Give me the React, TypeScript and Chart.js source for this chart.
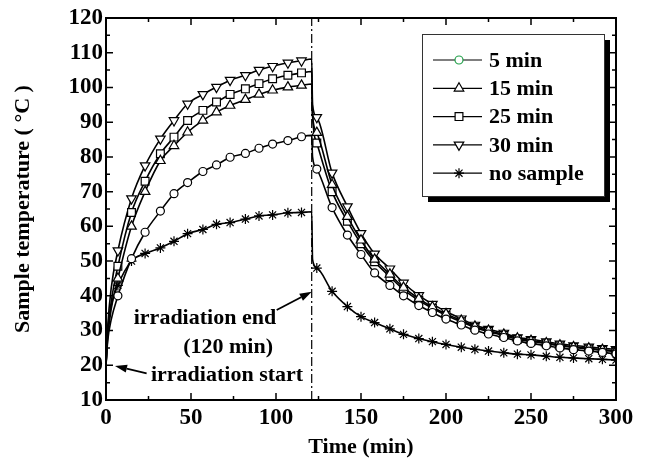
import { useEffect, useRef } from 'react';
import { Chart, registerables } from 'chart.js';

Chart.register(...registerables);

// ---- data ----
const heatTimes = [0, 1, 3, 7, 15, 23, 32, 40, 48, 57, 65, 73, 82, 90, 98, 107, 115, 121];
const coolTimes = [121.5, 124, 133, 142, 150, 158, 167, 175, 184, 192, 200, 209, 217, 225, 234, 242, 250, 259, 267, 275, 284, 292, 300];
const times = [...heatTimes, ...coolTimes];

const heat5 = [20, 27, 33, 40, 50.7, 58.3, 64.4, 69.4, 72.6, 75.8, 77.7, 79.9, 81, 82.5, 83.7, 84.7, 85.8, 86.2];
const cool5 = [80, 76.5, 65.4, 57.5, 51.9, 46.6, 43, 40, 37.2, 35.2, 33.3, 31.6, 30.1, 29, 28, 27, 26.3, 25.6, 25, 24.5, 24.1, 23.7, 23.3];
const heat15 = [20, 28, 36, 45, 60, 70, 78.9, 83.2, 87.1, 90.5, 92.9, 94.8, 96.5, 98, 99.2, 100.1, 100.6, 101];
const cool15 = [92, 87, 72, 62.8, 56, 50.5, 46.2, 42.4, 39.2, 36.8, 34.8, 32.9, 31.2, 30, 28.9, 27.8, 27.1, 26.4, 25.8, 25.3, 24.9, 24.5, 24.1];
const heat25 = [20, 29, 38, 48.5, 64, 73, 80.9, 85.7, 90.5, 93.4, 95.8, 98, 99.6, 101.1, 102.5, 103.5, 104.2, 104.6];
const cool25 = [92, 84, 70, 61.5, 55, 49.8, 45.5, 41.8, 38.7, 36.4, 34.4, 32.5, 30.9, 29.7, 28.6, 27.5, 26.9, 26.2, 25.6, 25.1, 24.7, 24.3, 23.9];
const heat30 = [20, 31, 42, 53, 68, 77.5, 85.2, 90.5, 95.3, 98, 100.1, 102.1, 103.5, 105, 106.1, 107.1, 107.7, 108.2];
const cool30 = [95, 91.4, 75.4, 65.7, 58, 52.1, 47.8, 43.7, 40.1, 37.6, 35.5, 33.4, 31.6, 30.4, 29.3, 28, 27.5, 26.8, 26.2, 25.7, 25.3, 24.9, 24.6];
const heatNone = [20, 30, 37, 43, 50, 52.2, 53.8, 55.7, 57.9, 59.1, 60.6, 61.1, 62.1, 63, 63.3, 63.9, 64, 64.2];
const coolNone = [50.5, 48, 41.3, 36.9, 34, 32.3, 30.5, 28.9, 27.7, 26.8, 26, 25.2, 24.6, 24.1, 23.6, 23.2, 23, 22.6, 22.3, 22.1, 21.9, 21.7, 21.5];

const seriesLabels = ['5 min', '15 min', '25 min', '30 min', 'no sample'];
const seriesValues = [
  [...heat5, ...cool5],
  [...heat15, ...cool15],
  [...heat25, ...cool25],
  [...heat30, ...cool30],
  [...heatNone, ...coolNone],
];
const noMarkerTimes = [0, 1, 3, 121, 121.5];

const xMin = 0, xMax = 300, xStep = 50, xMinorStep = 25;
const yMin = 10, yMax = 120, yStep = 10, yMinorStep = 5;
const irradiationEnd = 121;

const xTitle = 'Time (min)';
const yTitle = 'Sample temperature ( \u00B0C )';

// annotations: [text, t, T]
const annotationTexts: [string, number, number][] = [
  ['irradiation end', 58.2, 33.6],
  ['(120 min)', 71.8, 25.3],
  ['irradiation start', 71.2, 17.2],
];
// arrows: [fromT, fromY, toT, toY]
const arrows: [number, number, number, number][] = [
  [100.4, 35.9, 121, 41.2],
  [23.9, 17.7, 5.3, 19.8],
];

// ---- styles ----
const FONT = "'Liberation Serif', 'Times New Roman', serif";
const styles = [
  { pointStyle: 'circle', radius: 4, rotation: 0, legendColor: '#22a04a' },
  { pointStyle: 'triangle', radius: 5.5, rotation: 0, legendColor: '#000' },
  { pointStyle: 'rect', radius: 5.5, rotation: 0, legendColor: '#000' },
  { pointStyle: 'triangle', radius: 5.5, rotation: 180, legendColor: '#000' },
  { pointStyle: 'star', radius: 5, rotation: 0, legendColor: '#000' },
];

function drawShape(ctx: CanvasRenderingContext2D, style: string, x: number, y: number, r: number, rotation: number) {
  ctx.beginPath();
  if (style === 'circle') {
    ctx.arc(x, y, r, 0, Math.PI * 2);
    ctx.closePath();
    ctx.fill();
    ctx.stroke();
  } else if (style === 'triangle') {
    let rad = (rotation * Math.PI) / 180;
    ctx.moveTo(x + Math.sin(rad) * r, y - Math.cos(rad) * r);
    rad += (2 * Math.PI) / 3;
    ctx.lineTo(x + Math.sin(rad) * r, y - Math.cos(rad) * r);
    rad += (2 * Math.PI) / 3;
    ctx.lineTo(x + Math.sin(rad) * r, y - Math.cos(rad) * r);
    ctx.closePath();
    ctx.fill();
    ctx.stroke();
  } else if (style === 'rect') {
    const s = r * Math.SQRT1_2;
    ctx.rect(x - s, y - s, 2 * s, 2 * s);
    ctx.fill();
    ctx.stroke();
  } else if (style === 'star') {
    for (let k = 0; k < 4; k++) {
      const a = (k * Math.PI) / 4;
      ctx.moveTo(x + Math.cos(a) * r, y + Math.sin(a) * r);
      ctx.lineTo(x - Math.cos(a) * r, y - Math.sin(a) * r);
    }
    ctx.stroke();
  }
}

const overlayPlugin = {
  id: 'overlay',
  beforeDatasetsDraw(chart: any) {
    const { ctx, scales } = chart;
    const x = scales.x, y = scales.y;
    ctx.save();
    ctx.strokeStyle = '#000';
    ctx.lineWidth = 1.2;
    ctx.setLineDash([9, 3, 2, 3]);
    const px = x.getPixelForValue(irradiationEnd);
    ctx.beginPath();
    ctx.moveTo(px, y.getPixelForValue(yMin));
    ctx.lineTo(px, y.getPixelForValue(yMax));
    ctx.stroke();
    ctx.restore();
  },
  afterDatasetsDraw(chart: any) {
    const { ctx, chartArea: a, scales } = chart;
    const x = scales.x, y = scales.y;
    ctx.save();
    // frame
    ctx.strokeStyle = '#000';
    ctx.lineWidth = 2;
    ctx.strokeRect(a.left, a.top, a.right - a.left, a.bottom - a.top);
    // inward ticks
    ctx.lineWidth = 1.5;
    ctx.beginPath();
    for (let v = yMin; v <= yMax + 1e-9; v += yMinorStep) {
      const major = Math.abs((v - yMin) % yStep) < 1e-9;
      const len = major ? 7 : 4;
      const py = y.getPixelForValue(v);
      ctx.moveTo(a.left, py); ctx.lineTo(a.left + len, py);
      ctx.moveTo(a.right, py); ctx.lineTo(a.right - len, py);
    }
    for (let v = xMin; v <= xMax + 1e-9; v += xMinorStep) {
      const major = Math.abs((v - xMin) % xStep) < 1e-9;
      const len = major ? 7 : 4;
      const px = x.getPixelForValue(v);
      ctx.moveTo(px, a.bottom); ctx.lineTo(px, a.bottom - len);
      ctx.moveTo(px, a.top); ctx.lineTo(px, a.top + len);
    }
    ctx.stroke();

    // annotation texts
    ctx.fillStyle = '#000';
    ctx.font = `bold 22px ${FONT}`;
    ctx.textAlign = 'center';
    ctx.textBaseline = 'middle';
    annotationTexts.forEach(([t, tx, ty]) => {
      ctx.fillText(t, x.getPixelForValue(tx), y.getPixelForValue(ty));
    });
    // arrows
    arrows.forEach(([x0, y0, x1, y1]) => {
      const ax = x.getPixelForValue(x0), ay = y.getPixelForValue(y0);
      const bx = x.getPixelForValue(x1), by = y.getPixelForValue(y1);
      const ang = Math.atan2(by - ay, bx - ax);
      const hl = 12, hw = 4;
      const baseX = bx - Math.cos(ang) * hl, baseY = by - Math.sin(ang) * hl;
      ctx.lineWidth = 1.8;
      ctx.beginPath();
      ctx.moveTo(ax, ay);
      ctx.lineTo(baseX, baseY);
      ctx.stroke();
      ctx.beginPath();
      ctx.moveTo(bx, by);
      ctx.lineTo(baseX - Math.sin(ang) * hw, baseY + Math.cos(ang) * hw);
      ctx.lineTo(baseX + Math.sin(ang) * hw, baseY - Math.cos(ang) * hw);
      ctx.closePath();
      ctx.fill();
    });

    // legend
    const bx = a.right - 194, by = a.top + 16, bw = 182, bh = 162;
    ctx.fillStyle = '#000';
    ctx.fillRect(bx + 6, by + 6, bw, bh);
    ctx.fillStyle = '#fff';
    ctx.fillRect(bx, by, bw, bh);
    ctx.strokeStyle = '#333';
    ctx.lineWidth = 1;
    ctx.strokeRect(bx + 0.5, by + 0.5, bw, bh);
    seriesLabels.forEach((label, i) => {
      const ry = by + 26 + i * 28.3;
      ctx.strokeStyle = '#000';
      ctx.lineWidth = 1.2;
      ctx.beginPath();
      ctx.moveTo(bx + 11, ry);
      ctx.lineTo(bx + 60, ry);
      ctx.stroke();
      const st = styles[i];
      ctx.fillStyle = '#fff';
      ctx.strokeStyle = st.legendColor;
      ctx.lineWidth = 1.2;
      drawShape(ctx, st.pointStyle, bx + 37, ry, st.radius, st.rotation);
      ctx.fillStyle = '#000';
      ctx.font = `bold 22px ${FONT}`;
      ctx.textAlign = 'left';
      ctx.textBaseline = 'middle';
      ctx.fillText(label, bx + 67, ry + 1);
    });
    ctx.restore();
  },
};

export default function App() {
  const ref = useRef<HTMLCanvasElement>(null);
  useEffect(() => {
    if (!ref.current) return;
    const datasets = seriesLabels.map((label, i) => ({
      label,
      data: times.map((t, j) => ({ x: t, y: seriesValues[i][j] })),
      borderColor: '#000',
      borderWidth: 1.6,
      backgroundColor: '#fff',
      pointStyle: styles[i].pointStyle,
      pointRotation: styles[i].rotation,
      pointRadius: (c: any) => (noMarkerTimes.includes(times[c.dataIndex]) ? 0 : styles[i].radius),
      pointBackgroundColor: '#fff',
      pointBorderColor: '#000',
      pointBorderWidth: 1.2,
      cubicInterpolationMode: 'monotone',
      fill: false,
    }));
    const chart = new Chart(ref.current, {
      type: 'line',
      data: { datasets } as any,
      options: {
        animation: false,
        responsive: false,
        devicePixelRatio: 1,
        layout: { padding: { left: 0, top: 18, right: 40, bottom: 0 } },
        plugins: { legend: { display: false }, tooltip: { enabled: false } },
        scales: {
          x: {
            type: 'linear',
            min: xMin,
            max: xMax,
            afterFit: (s: any) => { s.height = 70; },
            grid: { display: false, drawTicks: false },
            border: { display: false },
            ticks: {
              stepSize: xStep,
              maxRotation: 0,
              padding: 4,
              color: '#000',
              font: { family: FONT, size: 23, weight: 'bold' },
            },
            title: {
              display: true,
              text: xTitle,
              color: '#000',
              padding: { top: 0, bottom: 9 },
              font: { family: FONT, size: 22, weight: 'bold' },
            },
          },
          y: {
            type: 'linear',
            min: yMin,
            max: yMax,
            afterFit: (s: any) => { s.width = 106; },
            grid: { display: false, drawTicks: false },
            border: { display: false },
            ticks: {
              stepSize: yStep,
              padding: 3,
              color: '#000',
              font: { family: FONT, size: 23, weight: 'bold' },
            },
            title: {
              display: true,
              text: yTitle,
              color: '#000',
              padding: { top: 10, bottom: 0 },
              font: { family: FONT, size: 22, weight: 'bold' },
            },
          },
        },
      } as any,
      plugins: [overlayPlugin],
    });
    return () => chart.destroy();
  }, []);
  return (
    <div style={{ position: 'fixed', left: 0, top: 0, width: 656, height: 470, background: '#fff' }}>
      <canvas ref={ref} width={656} height={470} style={{ display: 'block' }} />
    </div>
  );
}
